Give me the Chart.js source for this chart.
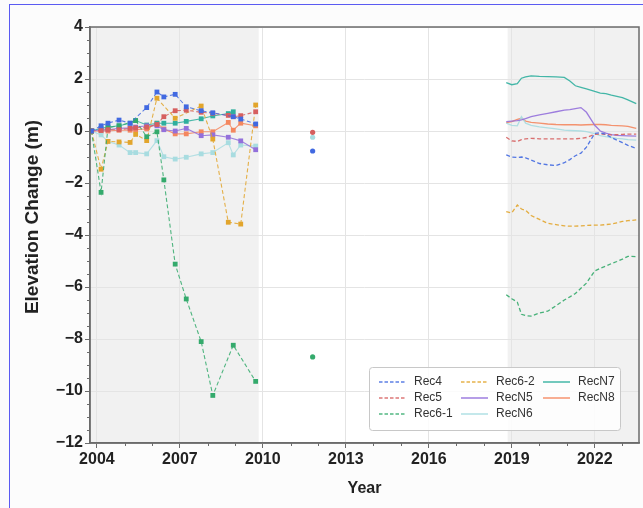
<!DOCTYPE html>
<html>
<head>
<meta charset="utf-8">
<script src="https://cdn.jsdelivr.net/npm/chart.js"></script>
<style>
  body { margin: 0; background: #fff; }
  #wrap { position: relative; width: 643px; height: 508px; overflow: hidden; }
  #frame { position: absolute; left: 9px; top: 4px; width: 700px; height: 600px;
           border-left: 1.5px solid #5b5bf2; border-top: 1.5px solid #5b5bf2; pointer-events: none; }
</style>
</head>
<body>
<div id="wrap">
  <canvas id="chart" width="643" height="508"></canvas>
  <div id="frame"></div>
</div>
<script>
// survey dates (decimal years)
const earlyYears = [2003.8, 2004.15, 2004.4, 2004.8, 2005.2, 2005.4, 2005.8, 2006.17, 2006.42, 2006.83, 2007.23, 2007.77, 2008.19, 2008.75, 2008.93, 2009.2, 2009.74];
const dotYear = 2011.8;
const lateYears = [2018.8, 2019.0, 2019.2, 2019.35, 2019.5, 2019.7, 2020.0, 2020.3, 2020.6, 2020.9, 2021.1, 2021.3, 2021.5, 2021.7, 2022.0, 2022.2, 2022.4, 2022.6, 2022.8, 2023.0, 2023.2, 2023.5];

const names = ['Rec4', 'Rec5', 'Rec6-1', 'Rec6-2', 'RecN5', 'RecN6', 'RecN7', 'RecN8'];

const rec4Early = [0, 0.2, 0.3, 0.42, 0.3, null, 0.9, 1.5, 1.31, 1.41, 0.93, 0.78, 0.7, null, 0.55, 0.46, 0.27];
const rec4Dot = -0.77;
const rec4Late = [-0.92, -1.0, -1.02, -1.0, -1.03, -1.12, -1.25, -1.3, -1.33, -1.22, -1.1, -0.95, -0.85, -0.62, -0.09, -0.07, -0.13, -0.25, -0.35, -0.45, -0.55, -0.67];

const rec5Early = [0, 0.02, 0.05, 0.05, 0.1, 0.12, 0.15, 0.25, 0.55, 0.78, 0.8, 0.72, 0.68, 0.6, 0.55, 0.59, 0.74];
const rec5Dot = -0.05;
const rec5Late = [-0.24, -0.38, -0.4, -0.33, -0.3, -0.28, -0.3, -0.3, -0.3, -0.3, -0.3, -0.3, -0.28, -0.25, -0.13, -0.12, -0.13, -0.15, -0.14, -0.13, -0.12, -0.12];

const rec61Early = [0, -2.36, 0.13, 0.2, null, 0.4, -0.22, -0.03, -1.88, -5.12, -6.46, -8.1, -10.17, null, -8.24, null, -9.63];
const rec61Dot = -8.69;
const rec61Late = [-6.3, -6.45, -6.58, -7.05, -7.1, -7.12, -7.0, -6.93, -6.72, -6.5, -6.38, -6.25, -6.05, -5.85, -5.38, -5.28, -5.2, -5.1, -5.02, -4.93, -4.82, -4.83];

const rec62Early = [0, -1.47, -0.4, -0.42, -0.44, -0.13, -0.37, 1.26, null, 0.49, null, 0.96, -0.31, -3.51, null, -3.58, 1.0];
const rec62Dot = null;
const rec62Late = [-3.1, -3.15, -2.85, -3.0, -3.05, -3.25, -3.4, -3.55, -3.6, -3.65, -3.66, -3.66, -3.65, -3.63, -3.62, -3.62, -3.6, -3.58, -3.53, -3.48, -3.45, -3.42];

const recN5Early = [0, 0.05, 0.05, 0.1, 0.12, 0.15, 0.2, 0.2, 0.05, 0.0, 0.1, -0.18, -0.15, -0.24, null, -0.38, -0.72];
const recN5Dot = null;
const recN5Late = [0.36, 0.38, 0.4, 0.43, 0.48, 0.55, 0.62, 0.68, 0.74, 0.8, 0.82, 0.86, 0.9, 0.72, 0.22, 0.0, -0.08, -0.14, -0.17, -0.18, -0.19, -0.2];

const recN6Early = [0, -0.15, -0.4, -0.54, -0.83, -0.83, -0.88, -0.37, -0.99, -1.08, -1.01, -0.88, -0.83, -0.45, -0.92, -0.54, -0.58];
const recN6Dot = -0.24;
const recN6Late = [0.3, 0.22, 0.2, 0.55, 0.3, 0.22, 0.16, 0.12, 0.08, 0.03, 0.02, 0.01, 0.0, -0.02, -0.1, -0.18, -0.22, -0.25, -0.28, -0.3, -0.33, -0.35];

const recN7Early = [0, 0.1, 0.15, 0.2, 0.3, 0.4, 0.23, 0.3, 0.3, 0.3, 0.37, 0.47, 0.58, 0.67, 0.74, null, null];
const recN7Dot = null;
const recN7Late = [1.86, 1.78, 1.82, 2.03, 2.08, 2.12, 2.1, 2.09, 2.08, 2.06, 1.92, 1.74, 1.68, 1.62, 1.52, 1.46, 1.44, 1.38, 1.33, 1.28, 1.2, 1.05];

const recN8Early = [0, 0, 0, 0.03, 0.03, 0.05, 0.08, 0.3, 0.08, -0.11, -0.11, -0.03, -0.03, 0.33, 0.03, 0.3, 0.2];
const recN8Dot = null;
const recN8Late = [0.32, 0.36, 0.45, 0.49, 0.38, 0.33, 0.3, 0.27, 0.25, 0.24, 0.24, 0.24, 0.23, 0.24, 0.25, 0.25, 0.24, 0.22, 0.21, 0.2, 0.18, 0.1];

const xTicks = [2004, 2007, 2010, 2013, 2016, 2019, 2022];
const yTicks = [4, 2, 0, -2, -4, -6, -8, -10, -12];
const shaded = [[2003.75, 2009.85], [2018.85, 2023.6]];
const yTitle = 'Elevation Change (m)';

// ----------------------------------------------------------------------
const early = [rec4Early, rec5Early, rec61Early, rec62Early, recN5Early, recN6Early, recN7Early, recN8Early];
const dots = [rec4Dot, rec5Dot, rec61Dot, rec62Dot, recN5Dot, recN6Dot, recN7Dot, recN8Dot];
const late = [rec4Late, rec5Late, rec61Late, rec62Late, recN5Late, recN6Late, recN7Late, recN8Late];

const rgb = ['65,105,225', '214,95,95', '52,170,108', '226,165,44', '147,112,219', '168,220,224', '48,175,158', '244,135,95'];
const dashed = [true, true, true, true, false, false, false, false];

function pts(xs, ys) {
    const out = [];
    xs.forEach((x, i) => { if (ys[i] !== null) out.push({ x: x, y: ys[i] }) });
    return out;
}

const datasets = [];
names.forEach((name, k) => {
    const dash = dashed[k] ? [4, 2.5] : [];
    datasets.push({
        label: name, data: pts(earlyYears, early[k]),
        borderColor: 'rgba(' + rgb[k] + ',0.85)', backgroundColor: 'rgba(' + rgb[k] + ',1)',
        borderWidth: 1.1, borderDash: dash, pointStyle: 'rect', pointRadius: 3.4, pointBorderWidth: 0
    });
    if (dots[k] !== null) {
        datasets.push({
            label: name, data: [{ x: dotYear, y: dots[k] }], showLine: false,
            backgroundColor: 'rgba(' + rgb[k] + ',1)', pointStyle: 'circle', pointRadius: 2.6, pointBorderWidth: 0
        });
    }
    datasets.push({
        label: name, data: pts(lateYears, late[k]),
        borderColor: 'rgba(' + rgb[k] + ',0.9)', borderWidth: 1.3, borderDash: dash, pointRadius: 0
    });
});

const FONT = 'Liberation Sans, Arial, sans-serif';

const backPlugin = {
    id: 'back',
    beforeDraw(chart) {
        const c = chart.ctx, a = chart.chartArea, x = chart.scales.x;
        c.save();
        c.fillStyle = '#fcfcfc';
        c.fillRect(0, 0, chart.width, chart.height);
        c.fillStyle = '#ffffff';
        c.fillRect(a.left, a.top, a.right - a.left, a.bottom - a.top);
        c.fillStyle = '#f1f1f1';
        shaded.forEach(s => {
            const x0 = Math.max(a.left, x.getPixelForValue(s[0]));
            const x1 = Math.min(a.right, x.getPixelForValue(s[1]));
            c.fillRect(x0, a.top, x1 - x0, a.bottom - a.top);
        });
        c.restore();
    },
    afterDraw(chart) {
        const c = chart.ctx, a = chart.chartArea, xs = chart.scales.x, ys = chart.scales.y;
        c.save();
        // frame
        c.strokeStyle = '#6b6b6b';
        c.lineWidth = 1.5;
        c.strokeRect(a.left, a.top, a.right - a.left, a.bottom - a.top);
        // minor ticks
        c.lineWidth = 1;
        c.beginPath();
        for (let v = -12; v <= 4; v += 0.5) {
            if (v % 2 === 0) continue;
            const y = Math.round(ys.getPixelForValue(v)) + 0.5;
            c.moveTo(a.left - 3, y); c.lineTo(a.left, y);
        }
        for (let v = 2004; v <= 2023; v++) {
            if (xTicks.includes(v)) continue;
            const x = Math.round(xs.getPixelForValue(v)) + 0.5;
            c.moveTo(x, a.bottom); c.lineTo(x, a.bottom + 3);
        }
        c.stroke();

        // y axis title
        c.save();
        c.translate(33, 217);
        c.rotate(-Math.PI / 2);
        c.font = 'bold 19px ' + FONT;
        c.fillStyle = '#222';
        c.textAlign = 'center';
        c.textBaseline = 'middle';
        c.fillText(yTitle, 0, 0);
        c.restore();

        // legend box
        const bw = 251, bh = 63;
        const bx = a.right - 19 - bw, by = a.bottom - 13 - bh;
        c.fillStyle = 'rgba(255,255,255,0.85)';
        c.strokeStyle = '#c8c8c8';
        c.lineWidth = 1;
        c.beginPath();
        c.roundRect(bx + 0.5, by + 0.5, bw, bh, 3);
        c.fill(); c.stroke();
        c.font = '12px ' + FONT;
        c.textBaseline = 'middle';
        names.forEach((name, k) => {
            const col = Math.floor(k / 3), row = k % 3;
            const lx = bx + 10 + col * 82, ly = by + 15 + row * 16;
            c.strokeStyle = 'rgba(' + rgb[k] + ',0.85)';
            c.lineWidth = 1.6;
            c.setLineDash(dashed[k] ? [3.5, 2] : []);
            c.beginPath(); c.moveTo(lx, ly); c.lineTo(lx + 27, ly); c.stroke();
            c.setLineDash([]);
            c.fillStyle = '#333';
            c.fillText(name, lx + 35, ly);
        });
        c.restore();
    }
};

const config = {
    type: 'line',
    data: { datasets: datasets },
    options: {
        responsive: false,
        animation: false,
        layout: { padding: { left: 18, right: 3, top: 27, bottom: 8 } },
        plugins: { legend: { display: false }, tooltip: { enabled: false } },
        scales: {
            x: {
                type: 'linear', min: 2003.75, max: 2023.6,
                afterBuildTicks: s => { s.ticks = xTicks.map(v => ({ value: v })) },
                afterFit: s => { s.height = 57 },
                grid: { color: '#e4e4e4', tickColor: '#6b6b6b', tickLength: 5 },
                border: { color: '#6b6b6b', width: 1.5 },
                ticks: { color: '#222', padding: 2, maxRotation: 0, font: { family: FONT, size: 16, weight: 'bold' }, callback: v => String(v) },
                title: { display: true, text: 'Year', color: '#222', padding: { top: 4, bottom: 2 }, font: { family: FONT, size: 16, weight: 'bold' } }
            },
            y: {
                min: -12, max: 4,
                afterBuildTicks: s => { s.ticks = yTicks.map(v => ({ value: v })) },
                afterFit: s => { s.width = 72 },
                grid: { color: '#e4e4e4', tickColor: '#6b6b6b', tickLength: 5 },
                border: { color: '#6b6b6b', width: 1.5 },
                ticks: { color: '#222', padding: 2, font: { family: FONT, size: 16, weight: 'bold' }, callback: v => v < 0 ? '\u2212' + Math.abs(v) : String(v) }
            }
        }
    },
    plugins: [backPlugin]
};

const chart = new Chart(document.getElementById('chart'), config);
</script>
</body>
</html>
